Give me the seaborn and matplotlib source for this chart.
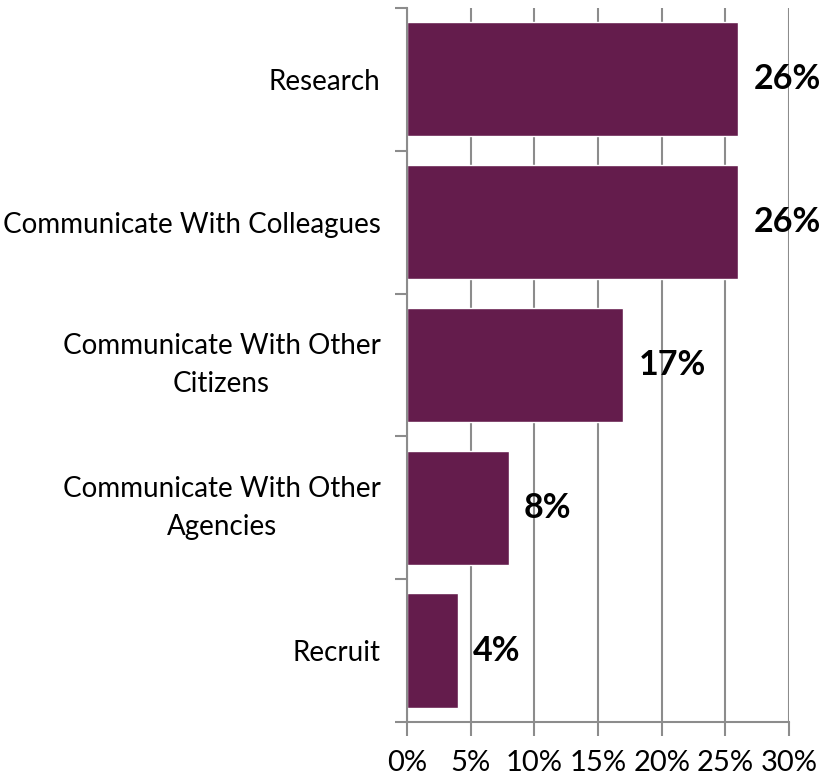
import matplotlib
matplotlib.use("Agg")
import matplotlib.pyplot as plt
import seaborn as sns
import pandas as pd
import numpy as np
from matplotlib.ticker import FixedLocator

categories = [
    "Research",
    "Communicate With Colleagues",
    "Communicate With Other\nCitizens",
    "Communicate With Other\nAgencies",
    "Recruit",
]
values = [26, 26, 17, 8, 4]
x_ticks = [0, 5, 10, 15, 20, 25, 30]
x_tick_labels = ["0%", "5%", "10%", "15%", "20%", "25%", "30%"]

bar_color = "#641C4C"
grid_color = "#8C8C8C"

sns.set_style("white")
plt.rcParams["font.family"] = ["Lato", "DejaVu Sans"]

df = pd.DataFrame({"category": categories, "value": values})

fig = plt.figure(figsize=(8.39, 7.77), dpi=100)
ax = fig.add_axes([0.485, 0.0708, 0.4555, 0.919])

sns.barplot(data=df, x="value", y="category", orient="h", color=bar_color,
            saturation=1, width=0.8, ax=ax)

ax.set_xlim(0, 30)
ax.set_ylim(len(categories) - 0.5, -0.5)
ax.set_xticks(x_ticks)
ax.set_xticklabels(x_tick_labels)
ax.set_xlabel("")
ax.set_ylabel("")

ax.grid(axis="x", color=grid_color, linewidth=1.5)
ax.set_axisbelow(True)

for side in ["top", "right"]:
    ax.spines[side].set_visible(False)
for side in ["left", "bottom"]:
    ax.spines[side].set_color(grid_color)
    ax.spines[side].set_linewidth(1.5)

ax.tick_params(axis="x", which="major", bottom=True, direction="out",
               length=10, width=1.5, color=grid_color, pad=10.5,
               labelsize=21, labelcolor="black")
ax.tick_params(axis="y", which="major", left=False, length=0, pad=19,
               labelsize=20, labelcolor="black")
ax.yaxis.set_minor_locator(FixedLocator(np.arange(-0.5, len(categories), 1.0)))
ax.tick_params(axis="y", which="minor", left=True, direction="out",
               length=9, width=1.5, color=grid_color)

for lbl in ax.get_yticklabels():
    lbl.set_horizontalalignment("right")
    lbl.set_multialignment("center")
    lbl.set_linespacing(1.55)
    if "\n" in lbl.get_text():
        lbl.set_verticalalignment("center")

for i, v in enumerate(values):
    ax.annotate(f"{v}%", xy=(v, i), xytext=(11, 0), textcoords="offset points",
                ha="left", va="center", fontsize=24.5, fontweight="bold",
                color="black")

fig.savefig("out.png", dpi=100)
